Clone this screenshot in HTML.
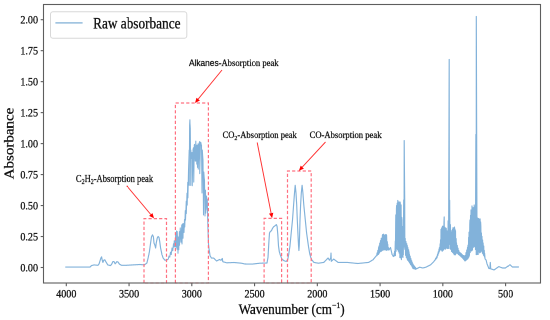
<!DOCTYPE html><html><head><meta charset="utf-8"><style>html,body{margin:0;padding:0;background:#fff;overflow:hidden;}svg{display:block;will-change:transform;transform:scale(0.5);transform-origin:0 0;}text{font-family:"Liberation Serif",serif;fill:#111;stroke:#111;stroke-width:0.3px;}</style></head><body>
<div id="wrap" style="width:550px;height:320px;overflow:hidden;position:relative;">
<svg width="1100" height="640" viewBox="0 0 550 320">
<polyline fill="none" stroke="#82b2da" stroke-width="1.15" stroke-linejoin="round" stroke-linecap="round" points="65.70,267.10 66.08,267.10 66.46,267.10 66.84,267.10 67.22,267.10 67.60,267.10 67.98,267.10 68.36,267.10 68.74,267.10 69.12,267.10 69.50,267.10 69.88,267.10 70.26,267.10 70.64,267.10 71.02,267.10 71.40,267.10 71.78,267.10 72.16,267.10 72.54,267.10 72.92,267.10 73.30,267.10 73.68,267.10 74.06,267.10 74.44,267.10 74.82,267.10 75.20,267.10 75.58,267.10 75.96,267.10 76.34,267.10 76.72,267.10 77.10,267.10 77.48,267.10 77.86,267.10 78.24,267.10 78.62,267.10 79.00,267.10 79.38,267.10 79.76,267.10 80.14,267.10 80.52,267.10 80.90,267.10 81.28,267.10 81.66,267.10 82.04,267.10 82.42,267.10 82.80,267.10 83.18,267.10 83.56,267.10 83.94,267.10 84.32,267.10 84.70,267.10 85.08,267.10 85.46,267.10 85.84,267.10 86.22,267.10 86.60,267.10 86.98,267.10 87.36,267.10 87.74,267.10 88.12,267.10 88.50,267.10 88.88,267.10 89.26,267.10 89.64,267.10 90.00,267.10 90.02,267.08 90.40,266.70 90.78,266.32 91.16,265.94 91.50,265.60 91.54,265.59 91.92,265.48 92.30,265.38 92.68,265.27 93.06,265.16 93.44,265.06 93.82,264.95 94.00,264.90 94.20,264.92 94.58,264.96 94.96,265.00 95.34,265.03 95.72,265.07 96.10,265.11 96.48,265.15 96.86,265.19 97.24,265.22 97.62,265.26 98.00,265.30 98.38,264.78 98.76,264.26 99.10,263.80 99.14,263.67 99.52,262.45 99.90,261.22 100.00,260.90 100.28,260.00 100.66,258.77 100.90,258.00 101.04,257.78 101.42,257.18 101.60,256.90 101.80,257.94 102.10,259.50 102.18,259.79 102.56,261.17 102.90,262.40 102.94,262.30 103.32,261.37 103.70,260.44 103.80,260.20 104.08,260.09 104.46,259.94 104.80,259.80 104.84,259.87 105.22,260.57 105.60,261.27 105.98,261.96 106.00,262.00 106.36,262.58 106.74,263.19 107.12,263.80 107.50,264.42 107.80,264.90 107.88,264.92 108.26,265.02 108.64,265.13 109.02,265.23 109.40,265.33 109.78,265.43 110.16,265.54 110.40,265.60 110.54,265.46 110.92,265.08 111.30,264.70 111.50,264.50 111.68,264.13 112.06,263.34 112.44,262.55 112.82,261.77 112.90,261.60 113.20,261.60 113.58,261.60 113.96,261.60 114.00,261.60 114.34,262.28 114.72,263.04 115.10,263.80 115.48,263.42 115.80,263.10 115.86,263.02 116.24,262.50 116.62,261.98 116.90,261.60 117.00,261.64 117.38,261.77 117.76,261.91 118.00,262.00 118.14,262.21 118.52,262.76 118.90,263.32 119.28,263.88 119.50,264.20 119.66,264.28 120.04,264.48 120.42,264.68 120.80,264.88 121.18,265.08 121.56,265.28 121.60,265.30 121.94,265.30 122.32,265.30 122.70,265.30 123.08,265.30 123.46,265.30 123.84,265.30 124.22,265.30 124.60,265.30 124.98,265.30 125.36,265.30 125.74,265.30 126.00,265.30 126.12,265.29 126.50,265.27 126.88,265.25 127.26,265.23 127.64,265.21 128.02,265.18 128.40,265.16 128.78,265.14 129.16,265.12 129.54,265.10 129.92,265.08 130.30,265.05 130.68,265.03 131.06,265.01 131.44,264.99 131.82,264.97 132.20,264.95 132.58,264.92 132.96,264.90 133.34,264.88 133.72,264.86 134.10,264.84 134.48,264.82 134.86,264.79 135.24,264.77 135.62,264.75 136.00,264.73 136.38,264.71 136.76,264.69 137.14,264.66 137.52,264.64 137.90,264.62 138.28,264.60 138.66,264.58 139.04,264.55 139.42,264.53 139.80,264.51 140.00,264.50 140.18,264.52 140.56,264.55 140.94,264.59 141.32,264.62 141.70,264.65 142.08,264.69 142.46,264.72 142.84,264.76 143.22,264.79 143.60,264.83 143.98,264.86 144.36,264.90 144.40,264.90 144.74,264.64 145.12,264.35 145.50,264.06 145.88,263.78 146.26,263.49 146.64,263.20 146.90,263.00 147.02,262.50 147.40,260.92 147.78,259.33 148.10,258.00 148.16,257.71 148.54,255.88 148.92,254.06 149.30,252.23 149.40,251.75 149.68,249.71 150.06,246.94 150.44,244.17 150.60,243.00 150.82,241.47 151.20,238.83 151.50,236.75 151.58,236.60 151.96,235.90 152.34,235.20 152.50,234.90 152.72,235.35 153.10,236.13 153.40,236.75 153.48,237.58 153.86,241.54 154.00,243.00 154.24,243.60 154.62,244.55 155.00,245.50 155.38,247.08 155.60,248.00 155.76,246.77 156.14,243.85 156.25,243.00 156.52,241.65 156.90,239.75 157.25,238.00 157.28,237.95 157.66,237.28 158.04,236.61 158.10,236.50 158.42,236.82 158.80,237.20 159.00,237.40 159.18,238.44 159.56,240.65 159.75,241.75 159.94,243.15 160.32,245.94 160.60,248.00 160.70,248.48 161.08,250.31 161.46,252.13 161.84,253.96 161.90,254.25 162.22,255.25 162.60,256.44 162.98,257.62 163.10,258.00 163.36,258.31 163.74,258.76 164.12,259.21 164.50,259.66 164.88,260.11 165.00,260.25 165.26,260.20 165.64,260.13 166.02,260.06 166.40,259.99 166.78,259.92 166.90,259.90 167.16,259.77 167.50,259.60"/>
<polyline fill="none" stroke="#82b2da" stroke-width="1.05" stroke-linejoin="round" stroke-linecap="round" points="167.50,259.60 168.25,259.03 169.00,256.08 169.75,257.06 170.50,252.14 171.25,254.21 172.00,248.02 172.75,250.75 173.50,243.75 174.00,246.92 174.25,240.72 175.00,246.84 175.75,232.81 176.00,247.15 176.50,231.03 177.00,249.23 177.25,231.54 178.00,253.29 178.10,236.96 178.75,249.68 179.40,231.67 179.50,245.20 180.25,227.88 181.00,242.18 181.75,224.95 182.00,244.03 182.50,224.03 183.00,238.22 183.25,223.57 184.00,232.47 184.50,219.58 184.75,227.02 185.30,210.66 185.50,220.11 186.25,201.17 186.30,213.63 187.00,193.10 187.20,205.16 187.75,182.25 187.90,197.85 188.50,170.29 189.20,150.00 189.25,185.38 189.60,125.00 189.90,119.80 190.00,123.53 190.30,128.00 190.75,185.43 190.80,150.00 191.50,158.52 192.00,152.50 192.25,185.75 193.00,150.00 193.40,147.80 193.75,182.13 194.30,145.00 194.50,144.42 195.25,161.12 195.80,141.14 196.00,161.03 196.70,145.17 196.75,164.16 197.10,145.37 197.50,167.35 198.00,143.86 198.25,169.10 199.00,144.21 199.50,141.70 199.75,173.67 200.50,142.20 200.90,142.70 201.25,145.53 201.50,145.00 202.00,192.99 202.30,150.00 202.75,157.05 203.00,160.00 203.50,215.01 203.80,172.00 204.25,178.60 204.50,180.00 205.00,215.96 205.50,190.10 205.75,213.07 206.50,196.01 207.25,210.06 207.30,199.29 207.60,215.00"/>
<polyline fill="none" stroke="#82b2da" stroke-width="1.15" stroke-linejoin="round" stroke-linecap="round" points="207.60,215.00 207.98,229.25 208.00,230.00 208.36,240.08 208.50,244.00 208.74,246.21 209.00,248.60 209.12,249.40 209.50,251.92 209.88,254.44 210.10,255.90 210.26,256.15 210.64,256.75 211.02,257.35 211.40,257.94 211.50,258.10 211.78,258.10 212.16,258.10 212.54,258.10 212.92,258.10 213.30,258.10 213.68,258.10 213.70,258.10 214.06,258.46 214.44,258.84 214.82,259.22 215.20,259.60 215.58,259.98 215.96,260.36 216.34,260.74 216.60,261.00 216.72,260.94 217.10,260.74 217.48,260.54 217.86,260.35 218.24,260.15 218.62,259.96 219.00,259.76 219.38,259.56 219.50,259.50 219.76,259.64 220.14,259.84 220.52,260.04 220.90,260.25 221.00,260.30 221.28,259.91 221.66,259.39 222.04,258.86 222.30,258.50 222.42,259.27 222.80,261.70 223.18,261.80 223.56,261.91 223.94,262.01 224.32,262.12 224.70,262.22 225.08,262.33 225.46,262.43 225.84,262.54 226.22,262.64 226.60,262.75 226.80,262.80 226.98,262.79 227.36,262.78 227.74,262.76 228.12,262.75 228.50,262.73 228.88,262.71 229.26,262.70 229.64,262.68 230.02,262.67 230.40,262.65 230.78,262.64 231.16,262.62 231.54,262.61 231.92,262.59 232.30,262.57 232.68,262.56 233.06,262.54 233.44,262.53 233.82,262.51 234.10,262.50 234.20,262.51 234.58,262.55 234.96,262.58 235.34,262.62 235.72,262.66 236.10,262.69 236.48,262.73 236.86,262.76 237.24,262.80 237.62,262.84 238.00,262.87 238.38,262.91 238.76,262.95 239.14,262.98 239.52,263.02 239.90,263.06 240.28,263.09 240.66,263.13 241.04,263.17 241.40,263.20 241.42,263.20 241.80,263.29 242.18,263.37 242.56,263.46 242.94,263.54 243.32,263.63 243.70,263.71 244.08,263.80 244.46,263.88 244.84,263.96 245.00,264.00 245.22,264.00 245.60,264.01 245.98,264.01 246.36,264.02 246.74,264.02 247.12,264.03 247.50,264.04 247.88,264.04 248.26,264.05 248.64,264.05 249.02,264.06 249.40,264.06 249.78,264.07 250.16,264.07 250.54,264.08 250.92,264.08 251.30,264.09 251.68,264.10 252.00,264.10 252.06,264.09 252.44,264.05 252.82,264.01 253.20,263.97 253.58,263.92 253.96,263.88 254.34,263.84 254.72,263.79 255.10,263.75 255.48,263.71 255.86,263.67 256.24,263.62 256.62,263.58 257.00,263.54 257.38,263.49 257.76,263.45 258.14,263.41 258.52,263.37 258.90,263.32 259.28,263.28 259.66,263.24 260.00,263.20 260.04,263.20 260.42,263.19 260.80,263.18 261.18,263.17 261.56,263.16 261.94,263.14 262.32,263.13 262.70,263.12 263.08,263.11 263.46,263.10 263.84,263.09 264.22,263.08 264.60,263.07 264.98,263.06 265.36,263.05 265.74,263.04 266.12,263.03 266.50,263.01 266.88,263.00 267.00,263.00 267.26,261.54 267.64,259.42 268.00,257.40 268.02,257.05 268.40,250.38 268.78,243.71 268.90,241.60 269.16,237.87 269.50,233.00 269.54,232.92 269.92,232.21 270.30,231.50 270.68,231.26 271.06,231.02 271.40,230.80 271.44,230.71 271.82,229.88 272.20,229.04 272.40,228.60 272.58,228.32 272.96,227.73 273.34,227.15 273.50,226.90 273.72,226.74 274.10,226.46 274.48,226.18 274.86,225.90 275.00,225.80 275.24,225.59 275.62,225.27 276.00,224.94 276.38,224.62 276.40,224.60 276.76,225.58 277.10,226.50 277.14,226.95 277.52,231.24 277.80,234.40 277.90,236.04 278.28,242.29 278.50,245.90 278.66,247.06 279.04,249.82 279.30,251.70 279.42,252.07 279.80,253.24 280.18,254.40 280.56,255.57 280.70,256.00 280.94,256.59 281.32,257.53 281.70,258.46 282.00,259.20 282.08,259.26 282.46,259.54 282.84,259.83 283.22,260.12 283.60,260.40 283.98,260.69 284.00,260.70 284.36,260.83 284.74,260.97 285.12,261.11 285.50,261.25 285.88,261.38 286.20,261.50 286.26,261.43 286.64,260.97 287.02,260.52 287.40,260.06 287.70,259.70 287.78,259.28 288.16,257.30 288.54,255.31 288.60,255.00 288.92,252.91 289.30,250.42 289.68,247.94 289.90,246.50 290.06,244.84 290.44,240.89 290.82,236.95 291.20,233.00 291.58,229.20 291.96,225.40 292.34,221.60 292.50,220.00 292.72,217.00 293.10,211.82 293.48,206.64 293.60,205.00 293.86,201.53 294.24,196.47 294.50,193.00 294.62,191.68 295.00,187.50 295.20,185.30 295.38,187.03 295.76,190.69 296.00,193.00 296.14,195.40 296.52,201.91 296.70,205.00 296.90,210.00 297.28,219.50 297.30,220.00 297.66,227.71 298.00,235.00 298.04,235.80 298.42,243.40 298.50,245.00 298.80,249.13 298.90,250.50 299.18,246.65 299.30,245.00 299.56,236.33 299.60,235.00 299.94,222.25 300.00,220.00 300.32,212.00 300.60,205.00 300.70,203.29 301.08,196.77 301.30,193.00 301.46,191.46 301.84,187.80 302.10,185.30 302.22,186.46 302.60,190.11 302.90,193.00 302.98,194.07 303.36,199.13 303.74,204.20 303.80,205.00 304.12,208.20 304.50,212.00 304.88,215.80 305.26,219.60 305.30,220.00 305.64,223.40 306.02,227.20 306.40,231.00 306.60,233.00 306.78,234.28 307.16,236.98 307.54,239.68 307.92,242.38 308.30,245.08 308.50,246.50 308.68,247.56 309.06,249.81 309.44,252.05 309.60,253.00 309.82,253.88 310.20,255.40 310.58,256.92 310.60,257.00 310.96,258.00 311.34,259.06 311.50,259.50 311.72,259.77 312.10,260.23 312.48,260.68 312.86,261.14 313.24,261.60 313.62,262.06 313.90,262.40 314.00,262.42 314.38,262.49 314.76,262.56 315.14,262.63 315.52,262.69 315.90,262.76 316.28,262.83 316.66,262.90 317.04,262.97 317.42,263.04 317.80,263.11 318.18,263.18 318.30,263.20 318.56,263.16 318.94,263.11 319.32,263.05 319.70,263.00 320.08,262.94 320.46,262.89 320.84,262.83 321.22,262.78 321.60,262.72 321.98,262.66 322.36,262.61 322.74,262.55 323.12,262.50 323.50,262.44 323.80,262.40 323.88,262.32 324.26,261.93 324.64,261.54 325.02,261.15 325.40,260.76 325.78,260.37 326.16,259.99 326.54,259.60 326.92,259.21 327.30,258.82 327.68,258.43 328.06,258.04 328.10,258.00 328.44,258.58 328.82,259.22 329.20,259.86 329.40,260.20 329.58,259.90 329.96,259.25 330.34,258.61 330.70,258.00 330.72,257.67 331.00,253.10 331.10,255.83 331.30,261.30 331.48,261.13 331.86,260.79 332.24,260.44 332.62,260.09 333.00,259.74 333.38,259.39 333.70,259.10 333.76,259.15 334.14,259.43 334.52,259.72 334.90,260.00 335.28,260.28 335.66,260.57 336.04,260.86 336.42,261.14 336.80,261.43 337.18,261.71 337.56,261.99 337.94,262.28 338.10,262.40 338.32,262.40 338.70,262.40 339.08,262.40 339.46,262.40 339.84,262.40 340.22,262.40 340.60,262.40 340.98,262.40 341.36,262.40 341.74,262.40 342.12,262.40 342.50,262.40 342.88,262.40 343.26,262.40 343.64,262.40 344.02,262.40 344.40,262.40 344.78,262.40 345.16,262.40 345.54,262.40 345.92,262.40 346.30,262.40 346.68,262.40 346.90,262.40 347.06,262.42 347.44,262.45 347.82,262.49 348.20,262.53 348.58,262.57 348.96,262.61 349.34,262.65 349.72,262.68 350.10,262.72 350.48,262.76 350.86,262.80 351.24,262.84 351.62,262.88 352.00,262.91 352.38,262.95 352.76,262.99 353.14,263.03 353.52,263.07 353.90,263.11 354.28,263.14 354.66,263.18 355.04,263.22 355.42,263.26 355.80,263.30 356.18,263.34 356.56,263.37 356.94,263.41 357.32,263.45 357.70,263.49 357.80,263.50 358.08,263.47 358.46,263.43 358.84,263.40 359.22,263.36 359.60,263.32 359.98,263.28 360.36,263.24 360.74,263.20 361.12,263.16 361.50,263.13 361.88,263.09 362.26,263.05 362.64,263.01 363.02,262.97 363.40,262.93 363.78,262.90 364.16,262.86 364.54,262.82 364.92,262.78 365.30,262.74 365.68,262.70 366.06,262.67 366.44,262.63 366.82,262.59 367.20,262.55 367.58,262.51 367.96,262.47 368.34,262.44 368.70,262.40 368.72,262.39 369.10,262.15 369.48,261.92 369.86,261.69 370.24,261.45 370.62,261.22 371.00,260.99 371.38,260.76 371.76,260.52 372.14,260.29 372.52,260.06 372.90,259.82 373.10,259.70 373.28,259.48 373.66,259.01 374.04,258.55 374.42,258.08 374.80,257.61 375.18,257.15 375.56,256.68 375.94,256.21 376.32,255.75 376.40,255.65 376.70,255.71 377.08,252.92 377.46,255.04 377.84,250.42 378.22,254.16 378.60,247.55 378.75,253.74 378.98,246.10 379.36,252.93 379.74,243.24 380.12,251.86 380.50,240.71 380.88,251.35 381.26,238.31 381.64,250.96 382.00,235.07 382.02,250.41 382.40,234.76 382.78,250.29 383.16,234.62 383.50,249.41 383.54,234.16 383.92,249.96 384.30,235.09 384.68,249.71 385.00,235.39 385.06,249.20 385.44,234.71 385.82,250.10 386.20,234.62 386.50,250.34 386.58,235.30 386.96,250.12 387.34,241.88 387.50,249.60 387.72,244.21 388.10,249.89 388.48,247.68 388.86,249.67 389.00,250.00 389.24,249.60 389.62,248.97 390.00,248.33 390.38,247.70 390.50,247.50 390.76,248.63 391.14,250.27 391.52,251.92 391.90,253.57 392.00,254.00 392.28,254.54 392.66,255.27 393.04,256.00 393.30,256.50 393.42,256.25 393.80,256.27 394.18,253.25 394.50,255.77 394.56,251.35 394.94,255.68 395.32,241.08 395.40,255.60 395.70,222.35 395.80,215.00 396.08,251.25 396.46,208.84 396.60,205.60 396.84,248.66 397.22,203.14 397.60,249.77 397.80,200.50 397.98,202.17 398.36,251.27 398.74,202.79 399.00,202.00 399.12,253.10 399.50,204.41 399.88,257.57 400.00,202.00 400.26,202.91 400.64,257.81 401.02,208.05 401.10,205.00 401.40,259.64 401.78,217.50 402.00,220.00 402.16,256.72 402.54,226.51 402.92,257.47 403.10,232.49 403.30,254.65 403.68,202.83 403.70,200.00 404.06,246.91 404.20,140.60 404.44,170.92 404.70,200.00 404.82,249.25 405.20,238.43 405.58,255.35 405.96,241.63 406.34,257.43 406.72,243.67 407.10,258.81 407.30,245.61 407.48,260.05 407.86,247.59 408.24,260.55 408.62,249.81 408.70,261.38 409.00,251.88 409.38,262.50 409.40,254.14 409.76,263.08 410.14,256.20 410.52,264.45 410.90,258.66 411.28,265.36 411.66,260.83 412.04,266.70 412.20,262.33 412.42,267.35 412.80,263.81 412.90,268.38 413.18,264.61 413.56,268.72 413.94,265.51 414.32,268.81 414.70,266.61 415.08,269.04 415.46,267.60 415.70,269.29 415.84,268.05 416.22,268.69 416.60,268.75 416.98,268.56 417.36,268.37 417.74,268.18 418.12,267.99 418.50,267.80 418.88,267.61 419.26,267.42 419.64,267.23 419.70,267.20 420.02,267.28 420.40,267.38 420.78,267.48 421.16,267.58 421.54,267.67 421.92,267.77 422.30,267.87 422.68,267.97 422.80,268.00 423.06,267.93 423.44,267.83 423.82,267.74 424.20,267.64 424.58,267.54 424.96,267.44 425.34,267.34 425.72,267.25 425.90,267.20 426.10,267.10 426.48,266.90 426.86,266.71 427.24,266.52 427.62,266.32 428.00,266.13 428.38,265.93 428.76,265.74 429.14,265.55 429.52,265.35 429.90,265.16 430.28,264.96 430.60,264.80 430.66,264.74 431.04,264.37 431.42,263.99 431.80,263.62 432.18,263.25 432.56,262.87 432.94,262.50 433.32,262.12 433.70,261.75 433.75,261.70 434.08,261.22 434.46,260.67 434.84,260.12 435.22,259.93 435.60,258.52 435.98,259.05 436.36,257.22 436.74,258.15 436.90,256.29 437.12,257.32 437.50,254.22 437.88,255.44 438.26,251.77 438.64,253.29 439.02,249.22 439.20,251.91 439.40,247.66 439.78,250.73 440.16,243.77 440.40,249.66 440.54,239.84 440.92,249.23 441.00,229.46 441.30,250.02 441.68,228.01 442.06,251.08 442.44,226.22 442.50,251.08 442.82,226.44 443.20,250.22 443.58,226.07 443.80,249.64 443.96,223.57 444.20,217.00 444.34,248.35 444.60,227.29 444.72,248.60 445.10,227.40 445.48,249.13 445.86,228.48 446.24,248.20 446.25,228.37 446.62,247.81 447.00,230.98 447.38,248.51 447.50,232.96 447.76,248.20 448.14,220.86 448.52,248.46 448.70,210.00 448.90,154.89 449.20,59.40 449.28,244.26 449.66,200.35 449.70,210.00 450.04,248.62 450.42,224.70 450.80,249.42 451.18,232.07 451.56,251.46 451.94,230.42 452.32,251.97 452.50,229.25 452.70,252.59 453.08,227.61 453.46,253.33 453.84,228.49 454.22,254.74 454.50,227.06 454.60,254.61 454.98,229.09 455.36,254.86 455.50,230.73 455.74,253.90 456.12,238.61 456.40,252.97 456.50,242.91 456.88,253.27 457.26,245.42 457.64,253.46 458.02,248.26 458.40,254.40 458.78,250.62 459.16,254.91 459.20,251.96 459.54,255.24 459.92,252.63 460.30,255.89 460.68,253.22 461.06,256.65 461.44,253.86 461.82,257.36 462.20,254.55 462.50,257.86 462.58,254.83 462.96,258.58 463.34,255.26 463.72,259.49 464.10,255.85 464.48,260.36 464.86,256.28 465.00,261.01 465.24,255.56 465.62,260.61 466.00,252.68 466.38,259.94 466.76,250.08 467.14,259.36 467.52,247.32 467.90,258.70 468.00,245.21 468.28,257.89 468.66,237.31 469.00,256.89 469.04,232.17 469.42,255.41 469.80,224.14 470.00,220.00 470.18,252.59 470.56,215.29 470.94,250.83 471.00,210.00 471.32,210.79 471.70,250.90 472.00,206.00 472.08,207.21 472.46,250.04 472.84,207.78 473.22,247.59 473.60,207.59 473.98,246.25 474.20,205.00 474.36,206.84 474.74,246.86 475.12,207.13 475.50,249.59 475.60,206.00 475.88,134.50 476.26,254.65 476.30,16.50 476.64,128.39 476.90,212.00 477.02,254.52 477.40,218.00 477.78,218.24 478.16,254.10 478.54,218.63 478.92,251.74 479.30,219.07 479.68,252.84 480.06,220.68 480.10,219.00 480.44,252.27 480.60,222.00 480.82,226.15 481.20,251.21 481.40,233.00 481.58,251.21 481.96,236.33 482.34,252.83 482.60,240.03 482.72,253.58 483.10,242.98 483.48,255.06 483.75,246.06 483.86,255.73 484.24,250.30 484.50,256.98 484.62,253.30 485.00,258.45 485.20,259.10 485.38,259.28 485.76,259.66 486.10,260.00 486.14,260.17 486.52,261.77 486.90,263.38 487.00,263.80 487.28,264.49 487.66,265.43 488.04,266.37 488.42,267.31 488.80,268.25 488.90,268.50 489.18,268.53 489.56,268.57 489.90,268.60 489.94,267.98 490.30,262.40 490.32,262.72 490.70,268.80 491.08,268.92 491.46,269.05 491.84,269.17 492.22,269.29 492.60,269.41 492.98,269.54 493.36,269.66 493.74,269.78 494.10,269.90 494.12,269.89 494.50,269.62 494.88,269.35 495.26,269.09 495.64,268.82 496.02,268.55 496.40,268.29 496.78,268.02 497.16,267.75 497.54,267.48 497.92,267.22 498.30,266.95 498.68,266.68 498.80,266.60 499.06,266.70 499.44,266.84 499.82,266.99 500.20,267.13 500.58,267.27 500.96,267.42 501.34,267.56 501.72,267.70 502.10,267.85 502.48,267.99 502.50,268.00 502.86,268.00 503.24,268.00 503.62,268.00 504.00,268.00 504.38,268.00 504.76,268.00 505.14,268.00 505.30,268.00 505.52,267.85 505.90,267.58 506.28,267.31 506.66,267.05 507.04,266.78 507.42,266.51 507.80,266.24 508.18,265.98 508.56,265.71 508.94,265.44 509.32,265.18 509.70,264.91 510.00,264.70 510.08,264.78 510.46,265.14 510.84,265.50 511.22,265.87 511.60,266.23 511.98,266.60 512.36,266.96 512.40,267.00 512.74,267.00 513.12,267.00 513.50,267.00 513.88,267.00 514.26,267.00 514.64,267.00 515.02,267.00 515.40,267.00 515.78,267.00 516.16,267.00 516.54,267.00 516.92,267.00 517.30,267.00 517.68,267.00 518.06,267.00 518.44,267.00 518.50,267.00"/>
<path d="M144.0,283.0 V218.6 H166.5 V283.0 Z" fill="none" stroke="#ff7080" stroke-width="1.2" stroke-dasharray="3.2,2.1"/>
<path d="M175.4,283.0 V103.0 H208.4 V283.0 Z" fill="none" stroke="#ff7080" stroke-width="1.2" stroke-dasharray="3.2,2.1"/>
<path d="M264.1,283.0 V218.4 H281.6 V283.0 Z" fill="none" stroke="#ff7080" stroke-width="1.2" stroke-dasharray="3.2,2.1"/>
<path d="M287.5,283.0 V171.0 H311.2 V283.0 Z" fill="none" stroke="#ff7080" stroke-width="1.2" stroke-dasharray="3.2,2.1"/>
<line x1="126.7" y1="185.8" x2="150.8" y2="214.5" stroke="#ff3030" stroke-width="0.95"/><polygon points="154.0,218.3 149.1,215.9 152.5,213.1" fill="#ff0000"/>
<line x1="222.0" y1="70.0" x2="198.2" y2="99.1" stroke="#ff3030" stroke-width="0.95"/><polygon points="195.0,103.0 196.5,97.7 199.9,100.5" fill="#ff0000"/>
<line x1="257.2" y1="142.5" x2="271.1" y2="213.2" stroke="#ff3030" stroke-width="0.95"/><polygon points="272.1,218.1 269.0,213.6 273.3,212.8" fill="#ff0000"/>
<line x1="325.5" y1="142.0" x2="302.3" y2="167.1" stroke="#ff3030" stroke-width="0.95"/><polygon points="298.9,170.8 300.7,165.6 303.9,168.6" fill="#ff0000"/>
<rect x="43.5" y="4.5" width="497.0" height="278.5" fill="none" stroke="#5e5e5e" stroke-width="1.1"/>
<line x1="40.7" y1="267.50" x2="43.5" y2="267.50" stroke="#5e5e5e" stroke-width="1.1"/>
<text x="38.0" y="271.50" font-size="11.9" text-anchor="end" textLength="17.6" lengthAdjust="spacingAndGlyphs">0.00</text>
<line x1="40.7" y1="236.53" x2="43.5" y2="236.53" stroke="#5e5e5e" stroke-width="1.1"/>
<text x="38.0" y="240.53" font-size="11.9" text-anchor="end" textLength="17.6" lengthAdjust="spacingAndGlyphs">0.25</text>
<line x1="40.7" y1="205.55" x2="43.5" y2="205.55" stroke="#5e5e5e" stroke-width="1.1"/>
<text x="38.0" y="209.55" font-size="11.9" text-anchor="end" textLength="17.6" lengthAdjust="spacingAndGlyphs">0.50</text>
<line x1="40.7" y1="174.57" x2="43.5" y2="174.57" stroke="#5e5e5e" stroke-width="1.1"/>
<text x="38.0" y="178.57" font-size="11.9" text-anchor="end" textLength="17.6" lengthAdjust="spacingAndGlyphs">0.75</text>
<line x1="40.7" y1="143.60" x2="43.5" y2="143.60" stroke="#5e5e5e" stroke-width="1.1"/>
<text x="38.0" y="147.60" font-size="11.9" text-anchor="end" textLength="17.6" lengthAdjust="spacingAndGlyphs">1.00</text>
<line x1="40.7" y1="112.62" x2="43.5" y2="112.62" stroke="#5e5e5e" stroke-width="1.1"/>
<text x="38.0" y="116.62" font-size="11.9" text-anchor="end" textLength="17.6" lengthAdjust="spacingAndGlyphs">1.25</text>
<line x1="40.7" y1="81.65" x2="43.5" y2="81.65" stroke="#5e5e5e" stroke-width="1.1"/>
<text x="38.0" y="85.65" font-size="11.9" text-anchor="end" textLength="17.6" lengthAdjust="spacingAndGlyphs">1.50</text>
<line x1="40.7" y1="50.67" x2="43.5" y2="50.67" stroke="#5e5e5e" stroke-width="1.1"/>
<text x="38.0" y="54.67" font-size="11.9" text-anchor="end" textLength="17.6" lengthAdjust="spacingAndGlyphs">1.75</text>
<line x1="40.7" y1="19.70" x2="43.5" y2="19.70" stroke="#5e5e5e" stroke-width="1.1"/>
<text x="38.0" y="23.70" font-size="11.9" text-anchor="end" textLength="17.6" lengthAdjust="spacingAndGlyphs">2.00</text>
<text x="66.30" y="297.5" font-size="11.9" text-anchor="middle" textLength="20.1" lengthAdjust="spacingAndGlyphs">4000</text>
<line x1="66.30" y1="283.0" x2="66.30" y2="286.2" stroke="#5e5e5e" stroke-width="1.1"/>
<text x="129.06" y="297.5" font-size="11.9" text-anchor="middle" textLength="20.1" lengthAdjust="spacingAndGlyphs">3500</text>
<line x1="129.06" y1="283.0" x2="129.06" y2="286.2" stroke="#5e5e5e" stroke-width="1.1"/>
<text x="191.81" y="297.5" font-size="11.9" text-anchor="middle" textLength="20.1" lengthAdjust="spacingAndGlyphs">3000</text>
<line x1="191.81" y1="283.0" x2="191.81" y2="286.2" stroke="#5e5e5e" stroke-width="1.1"/>
<text x="254.56" y="297.5" font-size="11.9" text-anchor="middle" textLength="20.1" lengthAdjust="spacingAndGlyphs">2500</text>
<line x1="254.56" y1="283.0" x2="254.56" y2="286.2" stroke="#5e5e5e" stroke-width="1.1"/>
<text x="317.32" y="297.5" font-size="11.9" text-anchor="middle" textLength="20.1" lengthAdjust="spacingAndGlyphs">2000</text>
<line x1="317.32" y1="283.0" x2="317.32" y2="286.2" stroke="#5e5e5e" stroke-width="1.1"/>
<text x="380.08" y="297.5" font-size="11.9" text-anchor="middle" textLength="20.1" lengthAdjust="spacingAndGlyphs">1500</text>
<line x1="380.08" y1="283.0" x2="380.08" y2="286.2" stroke="#5e5e5e" stroke-width="1.1"/>
<text x="442.83" y="297.5" font-size="11.9" text-anchor="middle" textLength="20.1" lengthAdjust="spacingAndGlyphs">1000</text>
<line x1="442.83" y1="283.0" x2="442.83" y2="286.2" stroke="#5e5e5e" stroke-width="1.1"/>
<text x="505.59" y="297.5" font-size="11.9" text-anchor="middle" textLength="15.1" lengthAdjust="spacingAndGlyphs">500</text>
<line x1="505.59" y1="283.0" x2="505.59" y2="286.2" stroke="#5e5e5e" stroke-width="1.1"/>
<text x="238.6" y="314.2" font-size="14.4" textLength="106" lengthAdjust="spacingAndGlyphs">Wavenumber (cm<tspan font-size="8.5" dy="-6">−1</tspan><tspan dy="6">)</tspan></text>
<text transform="translate(13.6,143.5) rotate(-90) scale(1,0.92)" x="0" y="0" font-size="15" text-anchor="middle">Absorbance</text>
<rect x="50.5" y="11.8" width="136.3" height="26.5" rx="2.5" fill="#fff" fill-opacity="0.8" stroke="#d8d8d8" stroke-width="1"/>
<line x1="55.4" y1="22.9" x2="82.6" y2="22.9" stroke="#94bcdc" stroke-width="1.5"/>
<text x="93.1" y="28.7" font-size="15.4" textLength="87.4" lengthAdjust="spacingAndGlyphs">Raw absorbance</text>
<text style="stroke-width:0.26px" x="75.9" y="182.2" font-size="10" textLength="77.2" lengthAdjust="spacingAndGlyphs">C<tspan font-size="7" dy="2">2</tspan><tspan dy="-2">H</tspan><tspan font-size="7" dy="2">2</tspan><tspan dy="-2">-Absorption peak</tspan></text>
<text x="189" y="65.9" font-size="9.2" style="stroke-width:0.26px;font-family:&quot;Liberation Sans&quot;,sans-serif" textLength="29.6" lengthAdjust="spacingAndGlyphs">Alkanes</text>
<text style="stroke-width:0.26px" x="218.6" y="65.9" font-size="9.6" textLength="60" lengthAdjust="spacingAndGlyphs">-Absorption peak</text>
<text style="stroke-width:0.26px" x="222.6" y="137.8" font-size="9.6" textLength="74.2" lengthAdjust="spacingAndGlyphs">CO<tspan font-size="6.7" dy="2">2</tspan><tspan dy="-2">-Absorption peak</tspan></text>
<text style="stroke-width:0.26px" x="309.6" y="137.8" font-size="9.6" textLength="71.9" lengthAdjust="spacingAndGlyphs">CO-Absorption peak</text>
</svg></div></body></html>
